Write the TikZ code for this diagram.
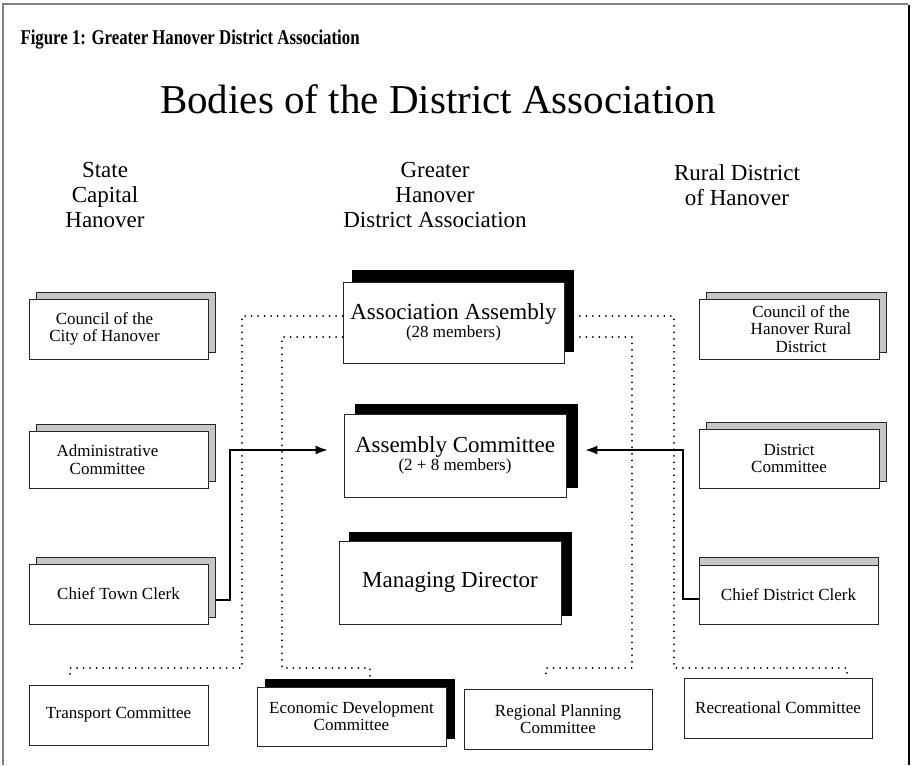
\documentclass[tikz,border=0pt]{standalone}
\usepackage{fontspec}
\setmainfont{Liberation Serif}
\newfontfamily\figfont{Liberation Serif}[FakeStretch=0.8]
\usetikzlibrary{shadows,arrows.meta}

\begin{document}
\begin{tikzpicture}[x=1pt,y=-1pt,
    box/.style={draw=black!85,fill=white,line width=0.7pt,align=center,inner sep=0pt,
      font=\fontsize{17}{17.5}\selectfont},
    boxtext/.style={align=center,inner sep=0pt,font=\fontsize{17}{17.5}\selectfont},
    greybox/.style={box,copy shadow={shadow xshift=7pt,shadow yshift=7pt,
      fill=black!22,draw=black!85,line width=0.7pt}},
    blackbox/.style={box,font=\fontsize{23}{18}\selectfont,
      copy shadow={fill=black,draw=black,#1}},
    head/.style={align=center,font=\fontsize{23}{25}\selectfont},
    dots/.style={line width=2pt,line cap=round,dash pattern=on 0pt off 6.5pt},
    link/.style={line width=1.4pt,-{Latex[length=12pt,width=9pt]}}]
    \useasboundingbox (0,0) rectangle (912,765);
    % frame
    \draw[black!50,line width=1.5pt] (3,765) -- (3,4) -- (908,4);
    \draw[line width=1.5pt] (909,5) -- (909,765);

    % titles
    \node[anchor=west,font=\figfont\bfseries\fontsize{21}{21}\selectfont] (fig) at (17,40)
      {Figure 1: Greater Hanover District Association};
    \node[font=\fontsize{41}{41}\selectfont] (bodies) at (438,99) {Bodies of the District Association};
    \node[head] (state) at (105,195) {State\\Capital\\Hanover};
    \node[head] (greater) at (435,195) {Greater\\Hanover\\District Association};
    \node[head] (rural) at (737,185) {Rural District\\of Hanover};

    % left column
    \node[greybox,minimum width=179,minimum height=60,
      label={[boxtext,xshift=-14pt]center:Council of the\\City of Hanover}] (council) at (118.5,329) {};
    \node[greybox,minimum width=179,minimum height=57,
      label={[boxtext,xshift=-11pt]center:Administrative\\Committee}] (admin) at (118.5,459.5) {};
    \node[greybox,minimum width=179,minimum height=60] (townclerk) at (118.5,594)
      {Chief Town Clerk};
    \node[box,minimum width=179,minimum height=60] (transport) at (118.5,715)
      {Transport Committee};

    % middle column
    \node[blackbox={shadow xshift=9pt,shadow yshift=12pt},minimum width=221,minimum height=81]
      (assembly) at (453.5,322.5)
      {Association Assembly\\{\fontsize{17}{17}\selectfont(28 members)}};
    \node[blackbox={shadow xshift=11pt,shadow yshift=10pt},minimum width=222,minimum height=83]
      (committee) at (455,455.5)
      {Assembly Committee\\{\fontsize{17}{17}\selectfont(2 + 8 members)}};
    \node[blackbox={shadow xshift=10pt,shadow yshift=9pt},minimum width=222,minimum height=83]
      (director) at (450,582.5) {Managing Director};
    \node[blackbox={shadow xshift=8pt,shadow yshift=8pt},font=\fontsize{17}{17}\selectfont,
      minimum width=189,minimum height=59] (econ) at (351.5,716.5)
      {Economic Development\\Committee};
    \node[box,minimum width=188,minimum height=60] (regional) at (558,719)
      {Regional Planning\\Committee};

    % right column
    \node[greybox,minimum width=180,minimum height=60,
      label={[boxtext,xshift=12pt]center:Council of the\\Hanover Rural\\District}] (rcouncil) at (789,329) {};
    \node[greybox,minimum width=180,minimum height=59] (dcommittee) at (789,458.5)
      {District\\Committee};
    \node[box,copy shadow={shadow xshift=0pt,shadow yshift=8pt,fill=black!22,draw=black!85},
      minimum width=179,minimum height=59] (distclerk) at (788.5,594.5)
      {Chief District Clerk};
    \node[box,minimum width=188,minimum height=60] (recreation) at (778,708)
      {Recreational Committee};

    % dotted links
    \draw[dots] ([yshift=6.5pt]assembly.west) -| (242,668)
      -| ([xshift=-48.5pt,yshift=8pt]transport.north);
    \draw[dots] ([yshift=-14.5pt]assembly.west) -| (282,668)
      -| ([xshift=18.5pt,yshift=10pt]econ.north);
    \draw[dots] ([xshift=9pt,yshift=6.5pt]assembly.east) -| (674,668)
      -| ([xshift=69pt,yshift=1pt]recreation.north);
    \draw[dots] ([xshift=9pt,yshift=-14.5pt]assembly.east) -| (632,668)
      -| ([xshift=-12pt,yshift=12pt]regional.north);

    % arrows
    \draw[link] ([xshift=7pt,yshift=-6pt]townclerk.east) -| (230,450)
      -- ([xshift=-16pt,yshift=5.5pt]committee.west);
    \draw[link] ([yshift=-4.5pt]distclerk.west) -| (683,450)
      -- ([xshift=19pt,yshift=5.5pt]committee.east);
  \end{tikzpicture}
\end{document}
